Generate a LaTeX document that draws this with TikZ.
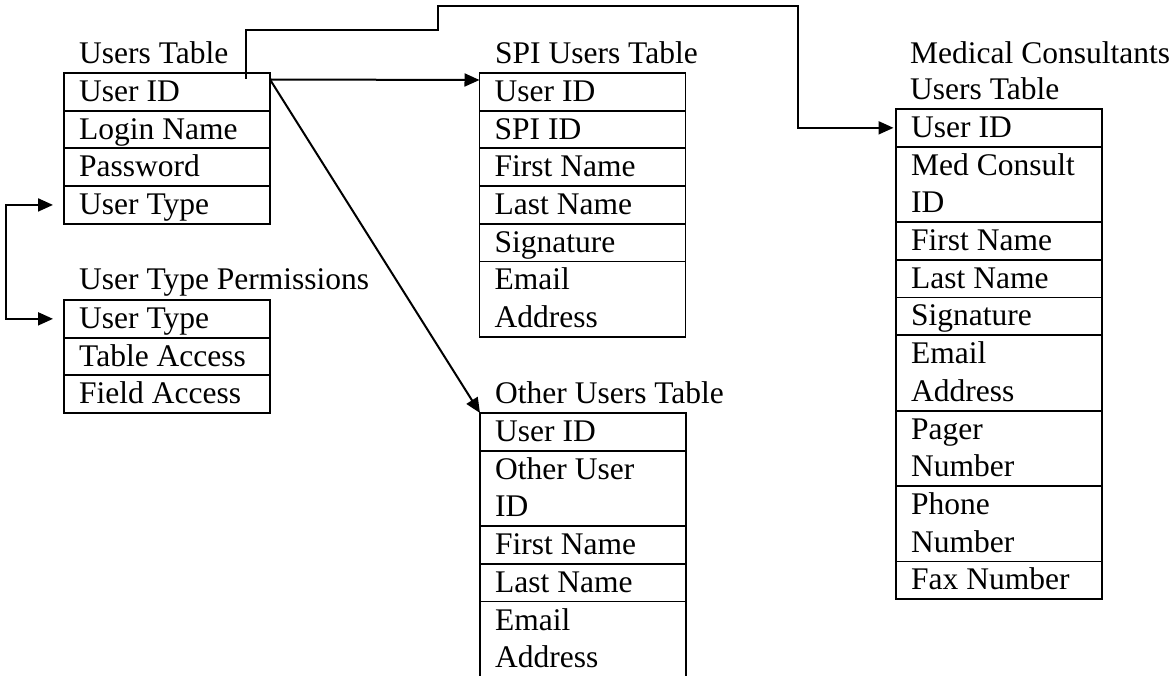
\documentclass[tikz,border=0pt]{standalone}
\usepackage{fontspec}
\setmainfont{Liberation Serif}
\usetikzlibrary{arrows.meta}
\newcommand\rowfont{\fontsize{31.5pt}{37.7pt}\selectfont}
\tikzset{
  cell/.style={draw, line width=1.8pt, minimum width=206pt, inner sep=0pt, outer sep=0pt, anchor=north west},
  txt/.style={anchor=base west, inner sep=0pt, font=\rowfont},
  tip/.tip={Triangle[length=15pt,width=13pt]},
  conn/.style={line width=2pt, -tip},
}
\newcommand\oneRow[4]{%
  \node[cell, minimum height=37.7pt] (#1) at (#2,#3) {};
  \node[txt] (#1t) at ([xshift=15pt,yshift=-28.5pt]#1.north west) {#4};}
\newcommand\twoRow[5]{%
  \node[cell, minimum height=75.4pt] (#1) at (#2,#3) {};
  \node[txt] (#1t) at ([xshift=15pt,yshift=-28.5pt]#1.north west) {#4};
  \node[txt] (#1u) at ([xshift=15pt,yshift=-66.2pt]#1.north west) {#5};}
\begin{document}
\begin{tikzpicture}[x=1pt,y=-1pt]
\clip (0,0) rectangle (1176,676);
\fill[white] (0,0) rectangle (1176,676);
% Users table
\node[txt] (ulab) at (79,64) {Users Table};
\oneRow{u1}{64}{73}{User ID}
\oneRow{u2}{64}{110.7}{Login Name}
\oneRow{u3}{64}{148.4}{Password}
\oneRow{u4}{64}{186.1}{User Type}
% User Type Permissions
\node[txt] (plab) at (79,290) {User Type Permissions};
\oneRow{p1}{64}{300}{User Type}
\oneRow{p2}{64}{337.7}{Table Access}
\oneRow{p3}{64}{375.4}{Field Access}
% SPI Users Table
\node[txt] (slab) at (495,63.5) {SPI Users Table};
\oneRow{s1}{479.5}{73}{User ID}
\oneRow{s2}{479.5}{110.7}{SPI ID}
\oneRow{s3}{479.5}{148.4}{First Name}
\oneRow{s4}{479.5}{186.1}{Last Name}
\oneRow{s5}{479.5}{223.8}{Signature}
\twoRow{s6}{479.5}{261.5}{Email}{Address}
% Other Users Table
\node[txt] (olab) at (495,403) {Other Users Table};
\oneRow{o1}{480}{413}{User ID}
\twoRow{o2}{480}{450.7}{Other User}{ID}
\oneRow{o3}{480}{526.1}{First Name}
\oneRow{o4}{480}{563.8}{Last Name}
\twoRow{o5}{480}{601.5}{Email}{Address}
% Medical Consultants Users Table
\node[txt] (mlab1) at (910,63.5) {Medical Consultants};
\node[txt] (mlab2) at (910,100) {Users Table};
\oneRow{m1}{896}{109}{User ID}
\twoRow{m2}{896}{146.7}{Med Consult}{ID}
\oneRow{m3}{896}{222.1}{First Name}
\oneRow{m4}{896}{259.8}{Last Name}
\oneRow{m5}{896}{297.5}{Signature}
\twoRow{m6}{896}{335.2}{Email}{Address}
\twoRow{m7}{896}{410.6}{Pager}{Number}
\twoRow{m8}{896}{486}{Phone}{Number}
\oneRow{m9}{896}{561.4}{Fax Number}
% connectors
\coordinate (src) at ([yshift=-6.5pt]u1.north east);
\coordinate (tap) at ([xshift=182pt,yshift=-6pt]u1.north west);
\draw[conn] (src) -- ([yshift=-7pt]s1.north west);
\draw[conn] (src) -- (o1.north west);
\draw[conn, shorten >=2.5pt] (tap) -- (246,30) -- (438,30) -- (438,6) -- (798,6) |- (m1.west);
\draw[conn, tip-tip, shorten <=11pt, shorten >=11pt] (u4.west) -- ++(-58,0) |- (p1.west);
\end{tikzpicture}
\end{document}
